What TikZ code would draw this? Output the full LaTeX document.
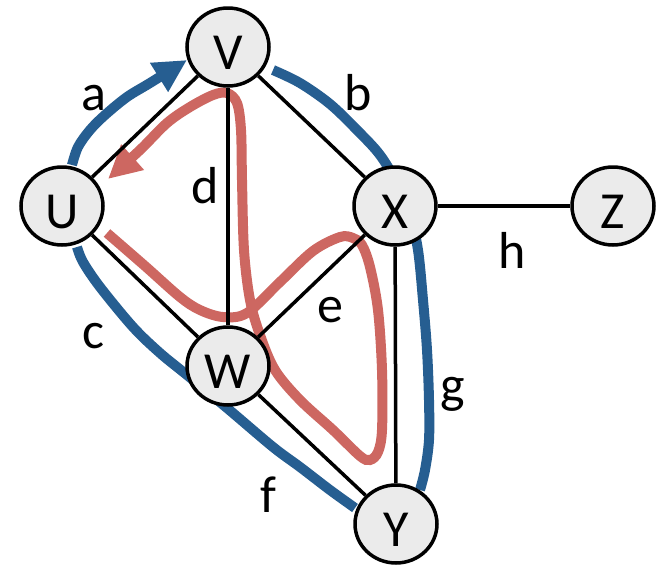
\documentclass[tikz,border=0pt]{standalone}
\usepackage{fontspec}
\setmainfont{Carlito}
\usetikzlibrary{shapes.geometric,arrows.meta}
\definecolor{pathblue}{RGB}{38,94,145}
\definecolor{pathred}{RGB}{205,103,97}
\definecolor{nodegray}{RGB}{235,235,235}
\pgfdeclarelayer{bg}
\pgfsetlayers{bg,main}
\begin{document}
\begin{tikzpicture}[x=1pt,y=1pt,
  vtx/.style={ellipse, draw=black, line width=3.5pt, fill=nodegray,
    minimum width=82pt, minimum height=78pt, inner sep=0pt,
    text height=44pt, text depth=0pt, font=\fontsize{52}{60}\selectfont},
  lbl/.style={anchor=base, inner sep=0pt, font=\fontsize{52}{60}\selectfont},
  link/.style={draw=black, line width=3.5pt},
  bluepath/.style={draw=pathblue, line width=10pt},
  redpath/.style={draw=pathred, line width=10pt},
  tip/.style={-{Triangle[length=33pt,width=32pt]}}
]
\useasboundingbox (0,0) rectangle (662,-566);

% vertices
\node[vtx] (V) at (228,-47) {V};
\node[vtx] (U) at (62,-206) {U};
\node[vtx] (X) at (395,-206) {X};
\node[vtx] (Z) at (613,-206) {Z};
\node[vtx] (W) at (228,-366) {W};
\node[vtx] (Y) at (396,-524) {Y};

% edge labels
\node[lbl] (la) at (94,-110) {a};
\node[lbl] (lb) at (358,-110) {b};
\node[lbl] (ld) at (205,-203) {d};
\node[lbl] (lc) at (93,-348) {c};
\node[lbl] (le) at (330,-322) {e};
\node[lbl] (lh) at (512,-268) {h};
\node[lbl] (lg) at (453,-402) {g};
\node[lbl] (lf) at (268,-512) {f};

\begin{pgfonlayer}{bg}
% red trail
\draw[redpath, tip] plot[smooth, tension=0.55] coordinates {
  (107,-233) (145,-266) (180,-297) (200,-310) (223,-317) (247,-313)
  (280,-282) (313,-251) (340,-237) (353,-238) (362,-245) (370,-267)
  (378,-310) (382,-370) (382,-430) (378,-452) (370,-460) (360,-456)
  (333,-430) (300,-400) (275,-370) (260,-335) (250,-300) (244,-250)
  (242,-180) (241,-130) (237,-103) (227,-93) (213,-95) (190,-107)
  (167,-123) (140,-150) (108,-179)};
% blue trail
\draw[bluepath, tip] plot[smooth, tension=0.55] coordinates {
  (72,-165) (78,-147) (90,-130) (105,-115) (127,-97) (150,-83) (187,-60)};
\draw[bluepath] plot[smooth, tension=0.55] coordinates {
  (273,-70) (300,-83) (330,-104) (357,-130) (380,-155) (398,-185)
  (410,-215) (418,-250) (423,-300) (427,-350) (429,-400) (429,-440)
  (425,-470) (420,-490)};
\draw[bluepath] plot[smooth, tension=0.55] coordinates {
  (77,-247) (83,-262) (100,-287) (133,-327) (160,-353) (187,-375)
  (227,-408) (273,-447) (300,-467) (330,-490) (355,-508)};
% black edges
\draw[link] (U) -- (V);
\draw[link] (V) -- (X);
\draw[link] (V) -- (W);
\draw[link] (U) -- (W);
\draw[link] (W) -- (X);
\draw[link] (X) -- (Y);
\draw[link] (W) -- (Y);
\draw[link] (X) -- (Z);
\end{pgfonlayer}
\end{tikzpicture}
\end{document}
